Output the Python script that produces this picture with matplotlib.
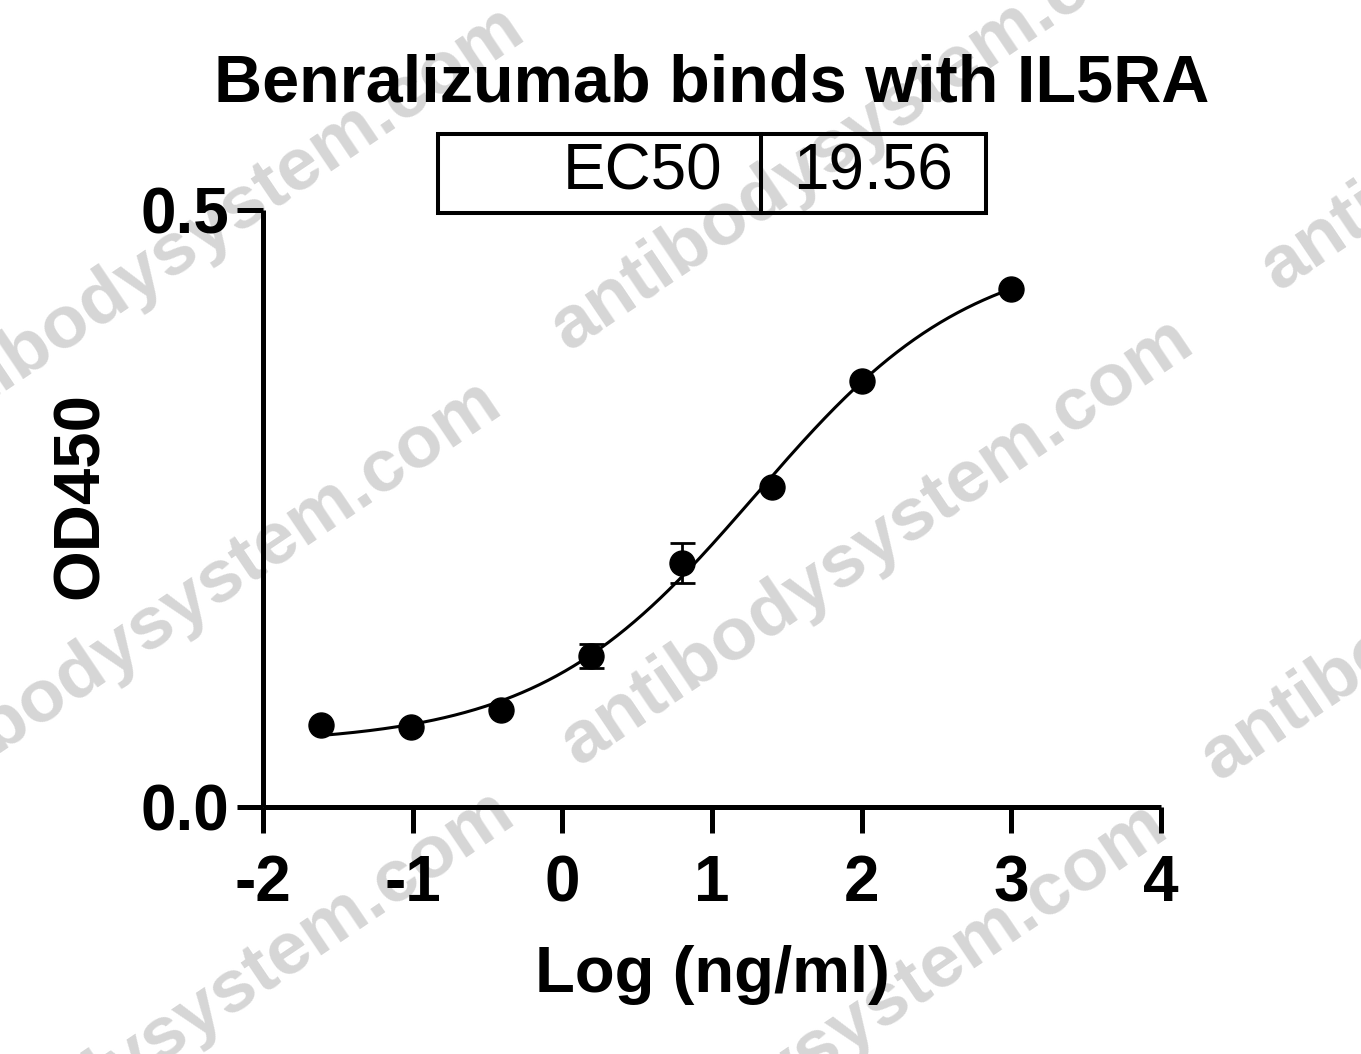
import numpy as np
import matplotlib
matplotlib.use("Agg")
import matplotlib.pyplot as plt
from matplotlib.patches import Rectangle
from matplotlib.lines import Line2D

# ---- data ----
log_conc = [-1.61, -1.01, -0.41, 0.19, 0.80, 1.40, 2.00, 3.00]
od450 = [0.0687, 0.0670, 0.0812, 0.1265, 0.2044, 0.2680, 0.3568, 0.4338]
od_err = [0.0, 0.0, 0.0, 0.010, 0.017, 0.0, 0.0, 0.0]

# 4PL fit parameters (EC50 from the chart)
ec50 = 19.56
fit_bottom = 0.0525
fit_top = 0.470
fit_hill = 0.60

title = "Benralizumab binds with IL5RA"
xlabel = "Log (ng/ml)"
ylabel = "OD450"
xticks = [-2, -1, 0, 1, 2, 3, 4]
yticks = [0.0, 0.5]
ytick_labels = ["0.0", "0.5"]
watermark = "antibodysystem.com"

plt.rcParams['font.family'] = ['Liberation Sans', 'DejaVu Sans']

W, H = 1361, 1054
fig = plt.figure(figsize=(W / 100, H / 100), dpi=100)

# watermark (behind everything)
wm_pos = [(208, 230), (867, 127), (1577, 67), (185, 604), (877, 542),
          (1517, 557), (198, 1014), (851, 1027)]
for (px, py) in wm_pos:
    fig.text(px / W, 1 - py / H, watermark, rotation=34, fontsize=54,
             fontweight='bold', color='#d6d6d6', ha='center', va='center',
             rotation_mode='anchor', zorder=-5)

ax = fig.add_axes([263 / W, 1 - 807 / H, (1161 - 263) / W, (807 - 210) / H])
ax.set_zorder(1)
ax.patch.set_alpha(0)
ax.set_xlim(-2, 4)
ax.set_ylim(0, 0.5)
for s in ['top', 'right']:
    ax.spines[s].set_visible(False)
for s in ['left', 'bottom']:
    ax.spines[s].set_linewidth(3.6)
    ax.spines[s].set_capstyle('butt')
ax.set_xticks(xticks)
ax.set_xticklabels([str(t) for t in xticks])
ax.set_yticks(yticks)
ax.set_yticklabels(ytick_labels)
ax.tick_params(axis='both', length=19, width=3.6, labelsize=46, direction='out')
ax.tick_params(axis='x', pad=15)
ax.tick_params(axis='y', pad=5)
for lab in ax.get_xticklabels() + ax.get_yticklabels():
    lab.set_fontweight('bold')

# fitted curve
xc = np.linspace(min(log_conc), max(log_conc), 400)
logec = np.log10(ec50)
yc = fit_bottom + (fit_top - fit_bottom) / (1 + 10 ** ((logec - xc) * fit_hill))
ax.plot(xc, yc, color='black', lw=2.2, zorder=3, clip_on=False)

err = np.array(od_err)
ax.errorbar(log_conc, od450, yerr=np.where(err > 0, err, np.nan), fmt='none',
            ecolor='black', elinewidth=2.0, capsize=9, capthick=2.0, zorder=4,
            clip_on=False)
ax.plot(log_conc, od450, 'o', color='black', ms=18, zorder=5, clip_on=False)

ax.set_xlabel(xlabel, fontsize=47, fontweight='bold', labelpad=22)

fig.text(81 / W, 1 - 496 / H, ylabel, fontsize=47, fontweight='bold',
         rotation=90, ha='center', va='center')

fig.text(712 / W, 1 - 85 / H, title, fontsize=48, fontweight='bold',
         ha='center', va='center')

# EC50 table box
x0, x1, xm = 438 / W, 986 / W, 761 / W
y0, y1 = 1 - 213 / H, 1 - 134 / H
fig.add_artist(Rectangle((x0, y0), x1 - x0, y1 - y0, transform=fig.transFigure,
                         fill=False, lw=2.9, edgecolor='black'))
fig.add_artist(Line2D([xm, xm], [y0, y1], transform=fig.transFigure,
                      color='black', lw=2.9))
fig.text(722 / W, 1 - 172 / H, "EC50", fontsize=46, ha='right', va='center')
fig.text(873 / W, 1 - 172 / H, "19.56", fontsize=46, ha='center', va='center')

fig.savefig("out.png", dpi=100)
